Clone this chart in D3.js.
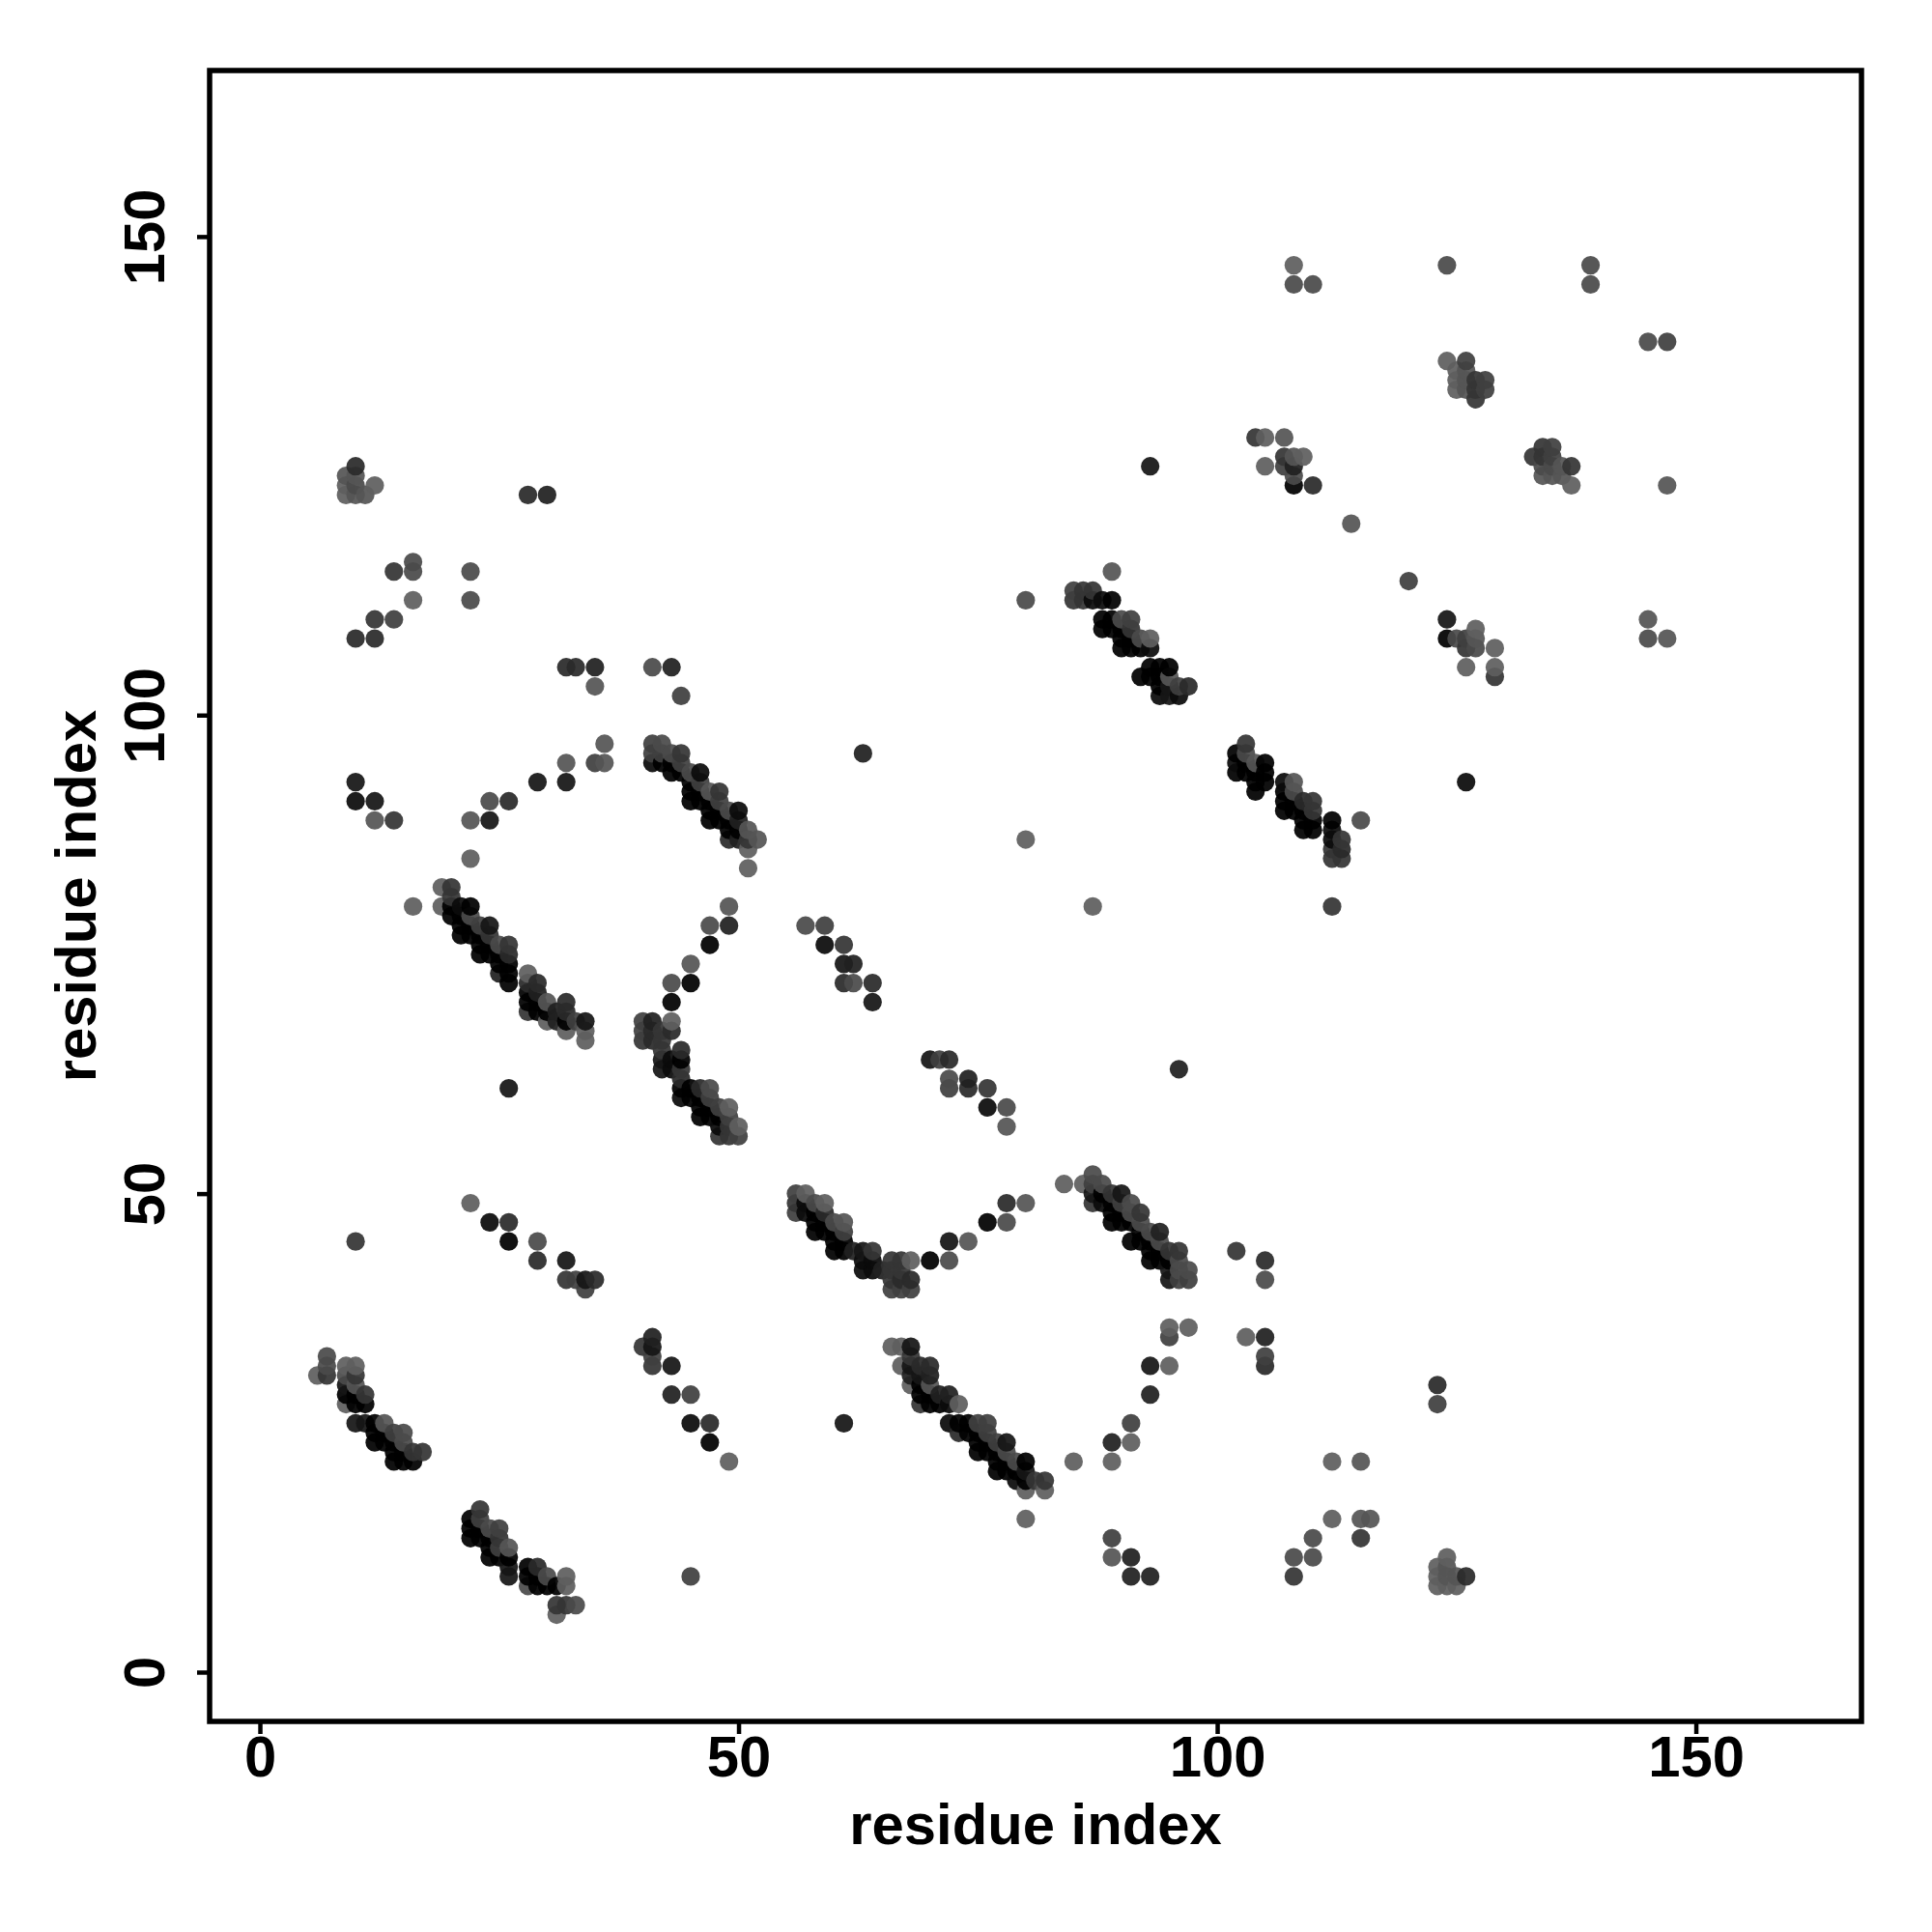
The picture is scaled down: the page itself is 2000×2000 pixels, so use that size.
<!DOCTYPE html>
<html>
<head>
<meta charset="utf-8">
<script src="https://cdn.jsdelivr.net/npm/d3@7/dist/d3.min.js"></script>
<style>html,body{margin:0;padding:0;background:#fff}</style>
</head>
<body>
<svg id="chart" width="2000" height="2000"></svg>
<script>
// Each contact: [residue i, residue j, strength 0..1]
const strandLowerLeft = [[6,31,.1],[7,33,.3],[7,32,.3],[7,31,.5],[9,32,.1],[10,32,.1],[9,31,.3],[9,30,.8],[9,29,1],[9,28,.1],[10,31,.5],[10,30,.2],[10,29,1],[10,28,1],[11,29,.5],[11,28,1],[10,26,.8],[11,26,.8],[12,26,1],[13,26,.2],[12,25,1],[13,25,1],[14,25,.4],[15,25,.3],[12,24,1],[13,24,1],[14,24,1],[15,24,.3],[14,23,1],[15,23,1],[16,23,.5],[17,23,.5],[14,22,1],[15,22,1],[16,22,1]];
const strandBottom = [[23,17,.5],[22,16,1],[22,15,1],[22,14,1],[23,16,.4],[23,15,1],[23,14,1],[24,15,.3],[25,15,.4],[24,14,1],[25,14,.5],[24,13,1],[25,13,.4],[26,13,.2],[24,12,1],[25,12,1],[26,12,1],[26,11,.8],[26,10,.8],[28,11,1],[28,10,1],[28,9,.3],[29,11,.6],[29,10,1],[29,9,1],[30,10,.3],[30,9,1],[31,9,1],[32,10,.1],[32,9,.1],[31,7,.5],[32,7,.5],[33,7,.3],[31,6,.1]];
const scatterBottomLeft = [[22,49,.1],[24,47,.9],[26,47,.6],[26,45,1],[29,45,.3],[29,43,.6],[32,43,.8],[32,41,.5],[33,41,.4],[34,41,.8],[35,41,.6],[34,40,.4],[10,45,.5],[45,10,.4],[40,34,.5],[41,35,.7],[41,34,.8],[41,33,.4],[41,32,.5],[43,32,.8],[43,29,.7],[45,29,.4],[45,26,.9],[47,26,.6],[47,24,1],[49,22,.1],[61,26,.8],[85,22,.1],[89,22,.1],[89,24,.7],[91,24,.1],[91,26,.4],[93,29,.7],[93,32,.8],[95,32,.1],[95,35,.4],[95,36,.1],[97,36,.1],[103,35,.1],[105,35,.7],[105,33,.4],[105,32,.6],[89,14,.4],[89,12,.2],[91,12,.7],[91,10,.7],[93,10,.7],[112,22,.1],[115,22,.2],[115,16,.2],[116,16,.2],[112,16,.1],[115,14,.5],[110,14,.3],[110,12,.3],[108,12,.3],[108,10,.5],[123,30,.6],[123,28,.4],[102,44,.5],[105,43,.6],[105,41,.3],[96,63,.7],[26,61,.8],[80,16,.1],[124,12,.1],[123,11,.1],[123,10,.1],[123,9,.1],[124,11,.2],[124,10,.2],[124,9,.1],[125,10,.2],[125,9,.1],[126,10,.6]];
const strandMiddle = [[56,50,.4],[57,50,.1],[56,49,.5],[56,48,.4],[57,49,.9],[57,48,.9],[58,49,.3],[59,49,.1],[58,48,1],[59,48,.6],[58,47,1],[59,47,1],[60,47,.3],[61,47,.2],[58,46,1],[59,46,1],[60,46,1],[61,46,.4],[60,45,1],[61,45,1],[60,44,1],[61,44,1],[62,44,.7],[63,44,.8],[64,44,.5],[63,43,.9],[64,43,.9],[63,42,.9],[64,42,.9],[65,42,.7],[66,42,.5],[67,42,.5],[66,43,.5],[67,43,.5],[68,43,.1],[66,41,.5],[67,41,.6],[68,41,.6],[66,40,.4],[67,40,.4],[68,40,.4],[70,43,1],[72,43,.3],[72,45,.8],[74,45,.2],[76,47,1],[78,47,.3],[78,49,.6],[80,49,.2]];
const strandMiddleRight = [[84,51,.1],[86,51,.1],[87,52,.3],[87,51,.4],[87,50,.8],[87,49,.5],[88,51,.3],[88,50,1],[88,49,.9],[89,50,.5],[90,50,.8],[89,49,1],[89,48,1],[89,47,1],[90,49,.4],[90,48,1],[90,47,1],[91,49,.3],[91,48,.3],[92,48,.5],[91,47,1],[92,47,.3],[92,46,1],[93,46,.3],[94,46,.7],[91,45,1],[92,45,1],[93,45,1],[94,45,.3],[93,44,1],[94,44,1],[95,44,.5],[96,44,.5],[93,43,1],[94,43,1],[95,43,1],[96,43,.3],[96,42,.3],[97,42,.3],[95,42,.8],[95,41,.8],[96,41,.4],[97,41,.4]];
const strandLowerMiddle = [[66,34,.1],[67,34,.1],[68,34,.8],[67,32,.1],[68,33,.5],[68,32,.8],[68,31,.7],[68,30,.1],[69,32,.6],[70,32,.6],[69,31,.8],[69,30,1],[69,29,1],[69,28,.5],[70,31,.7],[70,30,.2],[70,29,1],[70,28,1],[71,29,.7],[71,28,1],[72,29,.7],[72,28,.9],[73,28,.1],[72,26,.9],[73,26,1],[74,26,1],[75,26,.4],[76,26,.4],[73,25,.6],[74,25,1],[75,25,1],[76,25,.4],[75,24,1],[76,24,1],[77,24,.4],[78,24,.8],[75,23,1],[76,23,1],[77,23,1],[78,23,.3],[77,22,1],[78,22,1],[79,22,.3],[80,22,1],[77,21,1],[78,21,1],[79,21,1],[80,21,.8],[79,20,.9],[80,20,1],[81,20,.5],[82,20,.5],[80,19,.1],[82,19,.1]];
const strandUpperLeft = [[22,85,.1],[19,82,.1],[20,82,.5],[16,80,.1],[19,80,.1],[20,81,.5],[20,80,1],[20,79,1],[21,80,.9],[22,80,1],[21,79,1],[22,79,.3],[21,78,1],[21,77,1],[22,78,1],[22,77,1],[23,78,.4],[24,78,.8],[23,77,1],[24,77,.5],[23,76,1],[24,76,1],[23,75,1],[24,75,1],[25,76,.3],[26,76,.5],[25,75,1],[26,75,.6],[25,74,1],[26,74,1],[25,73,.7],[26,73,1],[26,72,1],[28,73,.1],[29,72,.6],[28,72,.6],[28,71,1],[28,70,1],[28,69,.5],[29,71,.7],[29,70,1],[29,69,1],[30,70,.2],[30,69,1],[30,68,.1],[31,69,.7],[31,68,.7],[32,70,.6],[32,69,.6],[32,68,1],[32,67,.1],[33,68,.4],[34,68,.8],[34,67,.1],[34,66,.1]];
const strandCenter = [[40,68,.4],[41,68,.7],[43,68,.1],[40,67,.4],[40,66,.5],[41,67,.6],[41,66,.6],[42,67,.5],[42,66,.5],[42,65,.5],[43,67,.6],[42,64,.8],[42,63,.8],[43,64,.9],[43,63,.9],[44,65,.6],[44,64,1],[44,63,.5],[44,62,.6],[44,61,1],[44,60,.9],[45,61,1],[46,61,.6],[47,61,.3],[45,60,1],[46,60,1],[47,60,.4],[46,59,1],[47,59,1],[46,58,1],[47,58,1],[48,59,.4],[49,59,.1],[48,58,1],[49,58,.4],[48,57,.9],[49,57,.5],[50,57,.1],[48,56,.5],[49,56,.5],[50,56,.4]];
const strandUpperMiddle = [[41,97,.4],[42,97,.3],[41,96,.4],[41,95,.9],[42,96,.4],[42,95,1],[43,96,.3],[44,96,.5],[43,95,1],[44,95,.4],[43,94,1],[44,94,1],[45,94,.3],[46,94,.9],[45,93,1],[46,93,.4],[47,92,.2],[48,92,.5],[45,92,1],[46,92,1],[45,91,1],[46,91,1],[47,91,1],[48,91,.4],[47,90,1],[48,90,1],[49,90,.3],[50,90,.9],[47,89,1],[48,89,1],[49,89,1],[50,89,.7],[49,88,1],[50,88,1],[51,88,.2],[49,87,.6],[50,87,.7],[51,87,.5],[52,87,.2],[51,86,.1],[51,84,.1]];
const armCenterRight = [[43,70,1],[43,72,.3],[45,72,1],[45,74,.2],[47,76,1],[47,78,.3],[49,78,.7],[49,80,.2]];
const scatterUpperLeft = [[10,93,.8],[10,91,.9],[12,91,.8],[12,89,.2],[14,89,.5],[22,89,.2],[24,89,.8],[24,91,.3],[26,91,.6],[29,93,.8],[32,93,.8],[32,95,.2],[35,95,.4],[36,95,.2],[36,97,.2],[10,108,.6],[12,108,.6],[12,110,.5],[14,110,.4],[14,115,.5],[16,115,.3],[16,116,.3],[16,112,.1],[22,115,.3],[22,112,.3],[32,105,.6],[33,105,.6],[35,105,.7],[35,103,.2],[41,105,.3],[43,105,.7],[44,102,.4],[28,123,.6],[30,123,.7],[10,126,.6],[9,125,.2],[9,124,.1],[9,123,.1],[10,125,.2],[10,124,.3],[10,123,.2],[11,123,.2],[12,124,.1],[63,96,.7],[80,87,.1],[87,80,.1],[80,112,.3]];
const scatterUpperMiddle = [[57,78,.3],[59,78,.4],[59,76,.9],[61,76,.5],[61,74,.8],[62,74,.7],[61,72,.6],[62,72,.3],[64,72,.6],[64,70,.8],[70,64,.8],[71,64,.4],[72,64,.6],[72,62,.3],[72,61,.4],[74,62,.7],[74,61,.6],[76,61,.5],[76,59,.9],[78,59,.3],[78,57,.2]];
const strandRightUpper = [[89,115,.2],[85,113,.4],[86,113,.5],[87,113,.5],[85,112,.5],[86,112,.5],[87,112,.9],[88,112,.9],[89,112,1],[88,110,1],[89,110,1],[90,110,.3],[91,110,.4],[88,109,1],[89,109,1],[90,109,1],[91,109,.5],[90,108,1],[91,108,1],[92,108,.3],[93,108,.1],[90,107,1],[91,107,1],[92,107,1],[93,107,.9],[93,105,1],[94,105,1],[95,105,1],[92,104,1],[93,104,1],[94,104,1],[95,104,.2],[94,103,1],[95,103,.8],[96,103,.4],[97,103,.6],[94,102,.9],[95,102,.8],[96,102,.9]];
const strandRightMiddle = [[103,97,.5],[102,96,1],[102,95,.9],[102,94,1],[103,96,.3],[103,95,1],[104,95,.2],[103,94,1],[104,94,1],[105,95,1],[105,94,1],[105,93,1],[104,93,1],[104,92,1],[107,93,.9],[108,93,.2],[107,92,1],[107,91,1],[107,90,1],[108,92,.3],[108,91,1],[108,90,1],[109,91,.6],[110,91,.5],[109,90,1],[110,90,.5],[109,89,1],[110,89,1],[109,88,1],[110,88,1],[112,89,1],[112,88,.9],[112,87,.9],[113,87,.5],[112,86,.5],[113,86,.6],[112,85,.5],[113,85,.5],[115,89,.3],[112,80,.5],[126,93,.9]];
const scatterUpperRight = [[93,126,.8],[104,129,.5],[105,129,.1],[107,129,.2],[107,127,.5],[108,127,.2],[109,127,.1],[105,126,.1],[107,126,.4],[108,126,.7],[108,125,.3],[108,124,1],[110,124,.6],[114,120,.2],[120,114,.4],[124,110,.8],[124,108,1],[125,108,.3],[126,108,.4],[126,107,.5],[127,109,.1],[127,108,.2],[127,107,.3],[126,105,.1],[129,107,.1],[129,105,.1],[129,104,.5],[145,110,.2],[145,108,.3],[147,108,.2],[147,124,.2]];
const clusterTopRight = [[108,147,.1],[108,145,.3],[110,145,.3],[124,147,.3],[139,147,.3],[139,145,.3],[145,139,.3],[147,139,.4],[124,137,.1],[126,137,.4],[125,136,.1],[126,136,.2],[125,135,.1],[125,134,.1],[126,135,.2],[126,134,.2],[127,135,.5],[128,135,.4],[127,134,.5],[128,134,.4],[127,133,.5],[134,128,.5],[135,128,.4],[133,127,.5],[134,127,.5],[135,127,.4],[134,126,.3],[135,126,.3],[134,125,.2],[135,125,.2],[136,126,.2],[137,126,.5],[136,125,.2],[137,124,.1]];

const xTickValues = [0, 50, 100, 150];
const yTickValues = [0, 50, 100, 150];
const xAxisTitle = "residue index";
const yAxisTitle = "residue index";

const contacts = [].concat(strandLowerLeft, strandBottom, scatterBottomLeft, strandMiddle, strandMiddleRight, strandLowerMiddle, strandUpperLeft, strandCenter, strandUpperMiddle, armCenterRight, scatterUpperLeft, scatterUpperMiddle, strandRightUpper, strandRightMiddle, scatterUpperRight, clusterTopRight)
  .sort((a, b) => d3.ascending(a[0], b[0]) || d3.ascending(a[1], b[1]));

const box = {left: 217, right: 1927, top: 73, bottom: 1782};
const x = d3.scaleLinear().domain([-5.25, 167.3]).range([box.left, box.right]);
const y = d3.scaleLinear().domain([-5.15, 167.35]).range([box.bottom, box.top]);
const shade = d3.scaleLinear().domain([0, 1]).range(["#6a6a6a", "#000000"]);

const svg = d3.select("#chart");
const font = "'Liberation Sans', Arial, sans-serif";
const fontSize = 59.8;

svg.append("g").selectAll("circle").data(contacts).join("circle")
  .attr("cx", d => x(d[0]))
  .attr("cy", d => y(d[1]))
  .attr("r", 9.6)
  .attr("fill", d => shade(d[2]))
  .attr("fill-opacity", 0.93);

svg.append("rect")
  .attr("x", box.left).attr("y", box.top)
  .attr("width", box.right - box.left).attr("height", box.bottom - box.top)
  .attr("fill", "none").attr("stroke", "#000").attr("stroke-width", 5.5);

const xAxis = svg.append("g").attr("transform", `translate(0,${box.bottom})`)
  .call(d3.axisBottom(x).tickValues(xTickValues).tickSize(13).tickPadding(2).tickFormat(d3.format("d")));
xAxis.select(".domain").remove();
xAxis.selectAll("line").attr("stroke", "#000").attr("stroke-width", 4.5);
xAxis.selectAll("text").attr("font-family", font).attr("font-weight", "bold").attr("font-size", fontSize).attr("fill", "#000");

const yAxis = svg.append("g").attr("transform", `translate(${box.left},0)`)
  .call(d3.axisLeft(y).tickValues(yTickValues).tickSize(13).tickFormat(d3.format("d")));
yAxis.select(".domain").remove();
yAxis.selectAll("line").attr("stroke", "#000").attr("stroke-width", 4.5);
yAxis.selectAll("text")
  .attr("font-family", font).attr("font-weight", "bold").attr("font-size", fontSize).attr("fill", "#000")
  .attr("x", null).attr("y", null).attr("dy", null)
  .attr("text-anchor", "middle")
  .attr("transform", `translate(${170 - box.left},0) rotate(-90)`);

svg.append("text").text(xAxisTitle)
  .attr("x", (box.left + box.right) / 2).attr("y", 1909)
  .attr("text-anchor", "middle").attr("font-family", font).attr("font-weight", "bold").attr("font-size", fontSize);
svg.append("text").text(yAxisTitle)
  .attr("transform", `translate(99,${(box.top + box.bottom) / 2}) rotate(-90)`)
  .attr("text-anchor", "middle").attr("font-family", font).attr("font-weight", "bold").attr("font-size", fontSize);
</script>
</body>
</html>
